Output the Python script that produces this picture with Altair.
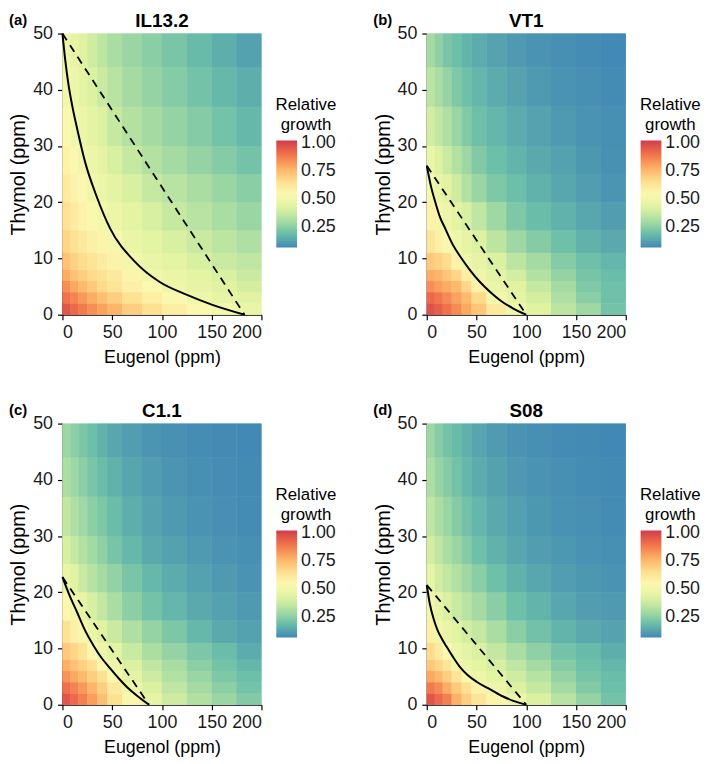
import altair as alt
import pandas as pd

FONT = "Liberation Sans"

# Cell edges of the heat-map grid (ppm)
E_EDGES = [0, 8, 16, 25, 35, 45, 60, 80, 100, 125, 150, 175, 200]
T_EDGES = [0, 2, 4, 6, 8, 11, 15, 20, 25, 30, 37, 44, 50]

# Relative growth, one list per thymol row (bottom row first)
GROWTH_IL13_2 = [
    [0.96, 0.92, 0.88, 0.84, 0.80, 0.76, 0.70, 0.65, 0.59, 0.55, 0.51, 0.47],
    [0.90, 0.86, 0.82, 0.78, 0.74, 0.70, 0.64, 0.59, 0.54, 0.49, 0.46, 0.43],
    [0.84, 0.79, 0.75, 0.71, 0.67, 0.63, 0.58, 0.54, 0.49, 0.46, 0.43, 0.40],
    [0.78, 0.73, 0.70, 0.67, 0.64, 0.61, 0.56, 0.50, 0.47, 0.44, 0.41, 0.38],
    [0.73, 0.69, 0.66, 0.63, 0.60, 0.57, 0.51, 0.47, 0.44, 0.41, 0.38, 0.355],
    [0.68, 0.64, 0.61, 0.58, 0.56, 0.52, 0.47, 0.44, 0.41, 0.38, 0.35, 0.32],
    [0.64, 0.60, 0.57, 0.54, 0.51, 0.48, 0.44, 0.41, 0.37, 0.34, 0.31, 0.28],
    [0.60, 0.57, 0.54, 0.505, 0.48, 0.45, 0.41, 0.37, 0.34, 0.31, 0.28, 0.25],
    [0.57, 0.54, 0.505, 0.48, 0.45, 0.41, 0.37, 0.33, 0.30, 0.27, 0.24, 0.21],
    [0.54, 0.51, 0.48, 0.45, 0.42, 0.37, 0.33, 0.30, 0.27, 0.24, 0.21, 0.18],
    [0.51, 0.48, 0.45, 0.42, 0.38, 0.34, 0.30, 0.27, 0.24, 0.21, 0.18, 0.155],
    [0.49, 0.46, 0.43, 0.39, 0.35, 0.31, 0.28, 0.25, 0.22, 0.185, 0.155, 0.125],
]
GROWTH_VT1 = [
    [0.97, 0.94, 0.90, 0.85, 0.79, 0.72, 0.61, 0.49, 0.43, 0.35, 0.29, 0.21],
    [0.92, 0.89, 0.85, 0.80, 0.75, 0.67, 0.51, 0.45, 0.40, 0.32, 0.25, 0.20],
    [0.84, 0.81, 0.78, 0.75, 0.68, 0.57, 0.47, 0.43, 0.37, 0.30, 0.23, 0.20],
    [0.78, 0.76, 0.72, 0.68, 0.59, 0.49, 0.45, 0.40, 0.33, 0.27, 0.215, 0.19],
    [0.71, 0.69, 0.66, 0.57, 0.49, 0.46, 0.415, 0.35, 0.30, 0.24, 0.20, 0.175],
    [0.63, 0.58, 0.53, 0.49, 0.46, 0.42, 0.35, 0.29, 0.24, 0.20, 0.165, 0.145],
    [0.57, 0.51, 0.48, 0.445, 0.41, 0.355, 0.29, 0.23, 0.19, 0.165, 0.14, 0.12],
    [0.51, 0.47, 0.435, 0.39, 0.33, 0.28, 0.23, 0.195, 0.165, 0.14, 0.12, 0.10],
    [0.47, 0.42, 0.38, 0.33, 0.285, 0.235, 0.195, 0.17, 0.145, 0.125, 0.105, 0.09],
    [0.40, 0.36, 0.32, 0.28, 0.235, 0.20, 0.175, 0.15, 0.13, 0.11, 0.095, 0.085],
    [0.345, 0.31, 0.27, 0.23, 0.20, 0.175, 0.15, 0.13, 0.11, 0.095, 0.085, 0.078],
    [0.30, 0.26, 0.22, 0.195, 0.17, 0.15, 0.13, 0.11, 0.095, 0.085, 0.078, 0.072],
]
GROWTH_C1_1 = [
    [0.965, 0.915, 0.87, 0.81, 0.74, 0.65, 0.555, 0.46, 0.385, 0.325, 0.28, 0.235],
    [0.90, 0.865, 0.82, 0.76, 0.70, 0.61, 0.49, 0.415, 0.355, 0.30, 0.255, 0.21],
    [0.83, 0.79, 0.75, 0.70, 0.65, 0.53, 0.45, 0.385, 0.33, 0.28, 0.23, 0.195],
    [0.775, 0.735, 0.695, 0.65, 0.555, 0.48, 0.415, 0.355, 0.305, 0.255, 0.21, 0.175],
    [0.71, 0.68, 0.635, 0.55, 0.485, 0.435, 0.375, 0.315, 0.27, 0.225, 0.19, 0.15],
    [0.635, 0.58, 0.525, 0.475, 0.43, 0.38, 0.32, 0.27, 0.225, 0.18, 0.145, 0.125],
    [0.55, 0.50, 0.455, 0.405, 0.36, 0.31, 0.255, 0.21, 0.175, 0.145, 0.125, 0.11],
    [0.475, 0.425, 0.38, 0.335, 0.30, 0.265, 0.22, 0.18, 0.15, 0.125, 0.11, 0.095],
    [0.41, 0.37, 0.33, 0.295, 0.26, 0.215, 0.18, 0.145, 0.125, 0.11, 0.095, 0.085],
    [0.36, 0.32, 0.29, 0.255, 0.225, 0.19, 0.155, 0.13, 0.11, 0.095, 0.087, 0.08],
    [0.315, 0.285, 0.255, 0.22, 0.19, 0.165, 0.135, 0.115, 0.098, 0.088, 0.082, 0.076],
    [0.285, 0.255, 0.225, 0.195, 0.165, 0.14, 0.118, 0.098, 0.09, 0.082, 0.076, 0.072],
]
GROWTH_S08 = [
    [0.965, 0.915, 0.87, 0.77, 0.70, 0.63, 0.56, 0.48, 0.415, 0.34, 0.27, 0.21],
    [0.885, 0.85, 0.78, 0.71, 0.65, 0.565, 0.48, 0.42, 0.37, 0.30, 0.235, 0.195],
    [0.79, 0.75, 0.70, 0.63, 0.53, 0.48, 0.44, 0.39, 0.335, 0.27, 0.215, 0.19],
    [0.72, 0.68, 0.625, 0.505, 0.475, 0.445, 0.405, 0.355, 0.30, 0.24, 0.20, 0.175],
    [0.665, 0.605, 0.535, 0.48, 0.45, 0.415, 0.365, 0.31, 0.26, 0.21, 0.185, 0.155],
    [0.58, 0.505, 0.47, 0.435, 0.40, 0.365, 0.31, 0.25, 0.205, 0.17, 0.145, 0.13],
    [0.50, 0.46, 0.415, 0.375, 0.34, 0.30, 0.25, 0.20, 0.17, 0.14, 0.12, 0.11],
    [0.455, 0.395, 0.36, 0.325, 0.29, 0.25, 0.20, 0.165, 0.14, 0.12, 0.105, 0.095],
    [0.40, 0.355, 0.315, 0.28, 0.24, 0.20, 0.165, 0.14, 0.12, 0.105, 0.092, 0.085],
    [0.355, 0.315, 0.28, 0.24, 0.205, 0.175, 0.145, 0.123, 0.105, 0.092, 0.085, 0.08],
    [0.315, 0.275, 0.24, 0.205, 0.175, 0.15, 0.128, 0.108, 0.094, 0.085, 0.079, 0.074],
    [0.285, 0.245, 0.21, 0.185, 0.16, 0.135, 0.113, 0.095, 0.085, 0.078, 0.074, 0.07],
]

ISO_IL13_2_E = [0, 3, 6, 10, 15, 23, 34, 48, 73, 97, 124, 150, 183]
ISO_IL13_2_T = [50, 45, 41, 37, 32.9, 27, 21.2, 15.3, 9.4, 5.9, 3.6, 1.8, 0]
ISO_VT1_E = [0, 4, 8.6, 13, 18.6, 26, 35, 44, 53, 64, 75, 87, 100]
ISO_VT1_T = [26.5, 23, 20, 17.5, 15.3, 12.5, 10, 7.8, 5.9, 4.0, 2.4, 1.1, 0]
ISO_C1_1_E = [0, 7, 14.6, 22, 31, 39, 47.8, 56, 64, 75, 87]
ISO_C1_1_T = [22.7, 19.5, 16.5, 13.5, 10.6, 8.4, 6.5, 4.8, 3.3, 1.6, 0]
ISO_S08_E = [0, 3, 7, 11, 15, 20, 26, 33, 41, 50, 62, 75, 87, 100]
ISO_S08_T = [21.3, 18, 15.2, 13.2, 11.8, 10.3, 8.6, 6.8, 5.3, 4.1, 2.9, 1.6, 0.7, 0]

# Additivity lines (dashed): end points on each axis
ADD_IL13_2 = ([0, 183], [50, 0])
ADD_VT1 = ([0, 100], [26.5, 0])
ADD_C1_1 = ([0, 87], [22.7, 0])
ADD_S08 = ([0, 100], [21.3, 0])

PANELS = [
    ("IL13.2", "(a)", GROWTH_IL13_2, ISO_IL13_2_E, ISO_IL13_2_T, ADD_IL13_2),
    ("VT1", "(b)", GROWTH_VT1, ISO_VT1_E, ISO_VT1_T, ADD_VT1),
    ("C1.1", "(c)", GROWTH_C1_1, ISO_C1_1_E, ISO_C1_1_T, ADD_C1_1),
    ("S08", "(d)", GROWTH_S08, ISO_S08_E, ISO_S08_T, ADD_S08),
]

G_MIN, G_MAX = 0.07, 1.02
LEGEND_VALUES = [0.25, 0.5, 0.75, 1.0]
X_TICKS = [0, 50, 100, 150, 200]
Y_TICKS = [0, 10, 20, 30, 40, 50]

W, H = 201, 284


def heat_df(grid):
    rows = []
    for j, row in enumerate(grid):
        for i, v in enumerate(row):
            rows.append({"e0": E_EDGES[i], "e1": E_EDGES[i + 1],
                         "t0": T_EDGES[j], "t1": T_EDGES[j + 1], "g": v})
    return pd.DataFrame(rows)


def panel(name, tag, grid, iso_e, iso_t, add):
    xs = alt.Scale(domain=[0, 200], nice=False, zero=False)
    ys = alt.Scale(domain=[0, 50], nice=False, zero=False)
    x_axis = alt.Axis(values=X_TICKS, title="Eugenol (ppm)", labelPadding=4,
                      titlePadding=7)
    y_axis = alt.Axis(values=Y_TICKS, title="Thymol (ppm)", labelPadding=5,
                      titlePadding=4)
    cscale = alt.Scale(scheme=alt.SchemeParams(name="spectral", extent=[0.9, 0.1]),
                       domain=[G_MIN, G_MAX], clamp=True)
    legend = alt.Legend(
        type="gradient",
        title=["Relative", "growth"], orient="none", legendX=215, legendY=64,
        direction="vertical", gradientLength=108, gradientThickness=21,
        gradientStrokeWidth=0, values=LEGEND_VALUES, format=".2f",
        labelFontSize=18, labelOffset=4, titleFontSize=17,
        titleFontWeight="normal", titleAlign="center", titleAnchor="middle",
        titleLineHeight=20, titlePadding=7,
    )
    df = heat_df(grid)
    heat = alt.Chart(df).mark_rect().encode(
        x=alt.X("e0:Q", scale=xs, axis=x_axis),
        x2="e1:Q",
        y=alt.Y("t0:Q", scale=ys, axis=y_axis),
        y2="t1:Q",
        color=alt.Color("g:Q", scale=cscale, legend=legend),
    )
    # same cells painted a second time to hide anti-aliasing seams
    heat2 = alt.Chart(df).mark_rect().encode(
        x=alt.X("e0:Q", scale=xs, axis=x_axis),
        x2="e1:Q",
        y=alt.Y("t0:Q", scale=ys, axis=y_axis),
        y2="t1:Q",
        color=alt.Color("g:Q", scale=cscale, legend=legend),
    )
    dashed = alt.Chart(pd.DataFrame({"e": add[0], "t": add[1]})).mark_line(
        color="black", strokeWidth=1.8, strokeDash=[8, 6]
    ).encode(x=alt.X("e:Q", scale=xs, axis=x_axis),
             y=alt.Y("t:Q", scale=ys, axis=y_axis))
    solid = alt.Chart(pd.DataFrame({"e": iso_e, "t": iso_t})).mark_line(
        color="black", strokeWidth=2, interpolate="monotone"
    ).encode(x=alt.X("e:Q", scale=xs, axis=x_axis),
             y=alt.Y("t:Q", scale=ys, axis=y_axis))
    tag_mark = alt.Chart(pd.DataFrame({"tag": [tag]})).mark_text(
        align="left", baseline="middle", fontSize=15, fontWeight="bold",
        font=FONT, color="black"
    ).encode(x=alt.value(-54), y=alt.value(-14), text="tag:N")
    title_mark = alt.Chart(pd.DataFrame({"name": [name]})).mark_text(
        align="center", baseline="middle", fontSize=19, fontWeight="bold",
        font=FONT, color="black"
    ).encode(x=alt.value(W / 2), y=alt.value(-13), text="name:N")
    return alt.layer(heat, heat2, dashed, solid, tag_mark, title_mark).properties(
        width=W, height=H
    )


charts = [panel(*p) for p in PANELS]

chart = alt.ConcatChart(
    concat=charts, columns=2, spacing={"row": 110, "column": 167},
    bounds="flush",
).resolve_scale(
    color="independent", x="independent", y="independent"
).properties(padding=0).configure_view(stroke=None).configure_axis(
    labelFont=FONT, titleFont=FONT, labelFontSize=18, titleFontSize=18,
    titleFontWeight="normal", labelColor="#1a1a1a", titleColor="black",
    domainColor="black", tickColor="black", domainWidth=1.2, tickWidth=1.2,
    tickSize=5, grid=False,
).configure_axisY(titleFontSize=20).configure_legend(
    labelFont=FONT, titleFont=FONT, labelColor="#1a1a1a", titleColor="black",
)

chart.save("out.html", embed_options={"renderer": "svg", "actions": False})
